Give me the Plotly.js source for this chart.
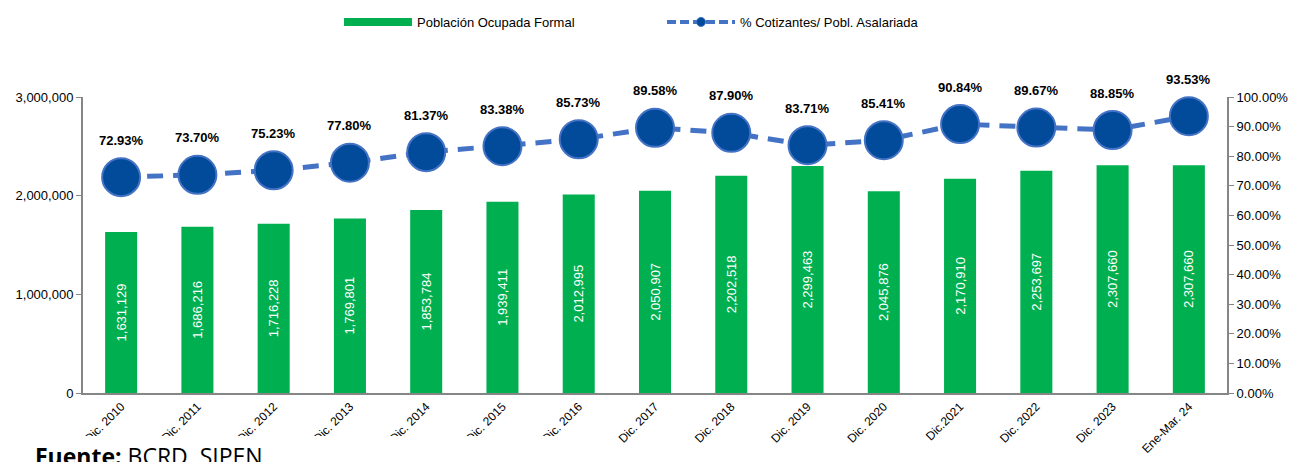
<!DOCTYPE html>
<html>
<head>
<meta charset="utf-8">
<script src="https://cdn.plot.ly/plotly-3.0.1.min.js"></script>
<style>html,body{margin:0;padding:0;background:#fff;}#chart{width:1292px;height:462px;}</style>
</head>
<body>
<div id="chart"></div>
<script>
const categories = ["Dic. 2010","Dic. 2011","Dic. 2012","Dic. 2013","Dic. 2014","Dic. 2015","Dic. 2016","Dic. 2017","Dic. 2018","Dic. 2019","Dic. 2020","Dic.2021","Dic. 2022","Dic. 2023","Ene-Mar. 24"];
const poblacionOcupadaFormal = [1631129,1686216,1716228,1769801,1853784,1939411,2012995,2050907,2202518,2299463,2045876,2170910,2253697,2307660,2307660];
const cotizantesPct = [72.93,73.70,75.23,77.80,81.37,83.38,85.73,89.58,87.90,83.71,85.41,90.84,89.67,88.85,93.53];

const font = "Liberation Sans, Arial, sans-serif";
const green = '#00B050';
const lineBlue = '#4472C4';
const markBlue = '#024B9A';

const barTrace = {
  type: 'bar', name: 'Población Ocupada Formal', showlegend: false,
  x: categories, y: poblacionOcupadaFormal,
  marker: {color: green},
  texttemplate: '%{y:,}', textposition: 'inside', insidetextanchor: 'middle',
  textangle: -90, textfont: {color: '#ffffff', size: 13, family: font},
  hoverinfo: 'skip'
};
const lineTrace = {
  type: 'scatter', mode: 'lines+markers', name: '% Cotizantes/ Pobl. Asalariada', showlegend: false,
  x: categories, y: cotizantesPct, yaxis: 'y2',
  line: {color: lineBlue, width: 5, dash: '16px,10px'},
  marker: {size: 38, color: markBlue, line: {color: lineBlue, width: 2}},
  cliponaxis: false, hoverinfo: 'skip'
};
// legend-only entries (no data points)
const barLegend = {
  type: 'scatter', mode: 'lines', name: 'Población Ocupada Formal',
  x: [null], y: [null], line: {color: green, width: 8}, hoverinfo: 'skip'
};
const lineLegend = {
  type: 'scatter', mode: 'lines+markers', name: '% Cotizantes/ Pobl. Asalariada',
  x: [null], y: [null], yaxis: 'y2',
  line: {color: lineBlue, width: 4, dash: '9px,4px'},
  marker: {size: 9, color: markBlue, line: {color: lineBlue, width: 1}}, hoverinfo: 'skip'
};

const pctLabels = categories.map((c, i) => ({
  x: c, y: cotizantesPct[i], xref: 'x', yref: 'y2', yshift: 37,
  text: cotizantesPct[i].toFixed(2) + '%', showarrow: false,
  font: {size: 13, family: font, color: '#000', weight: 'bold'}
}));

const layout = {
  width: 1292, height: 462,
  margin: {l: 83, r: 65, t: 97, b: 69, autoexpand: false},
  paper_bgcolor: '#ffffff', plot_bgcolor: '#ffffff',
  font: {family: font, size: 13, color: '#000'},
  bargap: 0.58,
  showlegend: true,
  legend: {orientation: 'h', x: 0.2238, xanchor: 'left', y: (393 - 22) / 296, yanchor: 'middle',
           font: {size: 13, family: font}, entrywidth: 240, itemwidth: 68, traceorder: 'normal'},
  xaxis: {type: 'category', range: [-0.5, 14.5], tickangle: -45, tickfont: {size: 12},
          showline: true, linecolor: '#868686', linewidth: 2, ticks: '', showgrid: false},
  yaxis: {range: [0, 3000000], dtick: 1000000, tickformat: ',d', showline: true,
          linecolor: '#868686', linewidth: 2, ticks: 'outside', ticklen: 5, tickcolor: '#868686',
          showgrid: false, zeroline: false, tickfont: {size: 13}},
  yaxis2: {overlaying: 'y', side: 'right', range: [0, 100], dtick: 10, tickformat: '.2f',
           ticksuffix: '%', showline: true, linecolor: '#868686', linewidth: 2,
           ticks: 'outside', ticklen: 5, tickcolor: '#868686', showgrid: false, zeroline: false,
           tickfont: {size: 13}},
  shapes: [{type: 'rect', xref: 'paper', yref: 'paper', x0: -0.08, x1: 0.455,
            y0: -0.235, y1: -0.145, fillcolor: '#ffffff', line: {width: 0}, layer: 'above'}],
  annotations: pctLabels.concat([{xref: 'paper', yref: 'paper', x: -0.044, y: -0.152, xanchor: 'left', yanchor: 'top',
                 text: '<b>Fuente:</b> BCRD, SIPEN', showarrow: false,
                 font: {size: 23, family: 'Open Sans, sans-serif', color: '#000'}}])
};

Plotly.newPlot('chart', [barTrace, lineTrace, barLegend, lineLegend], layout, {displayModeBar: false, staticPlot: true});
</script>
</body>
</html>
